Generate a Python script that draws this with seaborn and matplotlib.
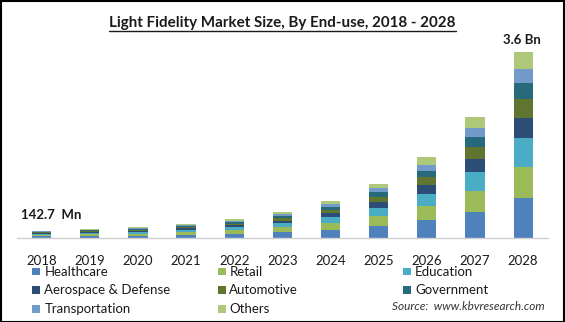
import matplotlib
matplotlib.use("Agg")
import matplotlib.pyplot as plt
from matplotlib.patches import Rectangle
from matplotlib.lines import Line2D
import seaborn as sns
import pandas as pd
import numpy as np

years = ["2018", "2019", "2020", "2021", "2022", "2023", "2024", "2025", "2026", "2027", "2028"]
segments = ["Healthcare", "Retail", "Education", "Aerospace & Defense",
            "Automotive", "Government", "Transportation", "Others"]
# values in USD million
healthcare     = [31, 38, 46, 60, 80, 110, 155, 232, 348, 509, 780]
retail         = [27, 33, 40, 52, 69, 95, 141, 194, 271, 406, 600]
education      = [23, 28, 34, 44, 58, 80, 116, 155, 232, 368, 561]
aerospace      = [14, 18, 22, 28, 37, 52, 66, 116, 174, 246, 387]
automotive     = [13, 16, 20, 26, 34, 47, 58, 97, 161, 238, 362]
government     = [13, 16, 19, 25, 33, 46, 64, 97, 110, 194, 315]
transportation = [10, 12, 15, 20, 27, 37, 58, 77, 116, 174, 265]
others         = [11.7, 14, 17, 22, 30, 42, 64, 77, 161, 213, 330]
colors = ["#4F81BD", "#9BBB59", "#4BACC6", "#2C4D75",
          "#5F7530", "#276A7C", "#729ACA", "#AFC97A"]
first_label = "142.7  Mn"
last_label = "3.6 Bn"

series = [healthcare, retail, education, aerospace, automotive,
          government, transportation, others]

rows = []
for s, vals in zip(segments, series):
    for y, v in zip(years, vals):
        rows.append({"year": y, "segment": s, "value": v})
df = pd.DataFrame(rows)
df["cum"] = df.groupby("year")["value"].cumsum()

W, H = 565, 322
fig = plt.figure(figsize=(W / 100, H / 100), dpi=100)
sns.set_style("white")
plt.rcParams["font.family"] = ["Lato", "DejaVu Sans"]

def fx(px):
    return px / W

def fy(py):
    return 1 - py / H

ax_left, ax_right, ax_base, ax_top = 16.7, 547.7, 238, 52
ax = fig.add_axes([fx(ax_left), fy(ax_base), (ax_right - ax_left) / W, (ax_base - ax_top) / H])

for s, c in reversed(list(zip(segments, colors))):
    sub = df[df["segment"] == s]
    sns.barplot(data=sub, x="year", y="cum", order=years, color=c, saturation=1,
                width=0.4, linewidth=0, ax=ax, errorbar=None)

ax.set_xlim(-0.519, 10.51)
ax.set_ylim(0, 3600)
ax.set_xlabel("")
ax.set_ylabel("")
ax.set_yticks([])
for sp in ["top", "right", "left"]:
    ax.spines[sp].set_visible(False)
ax.spines["bottom"].set_color("#D0D0D0")
ax.spines["bottom"].set_linewidth(1.0)
ax.tick_params(axis="x", length=0, pad=12, labelsize=9.5, labelcolor="#1a1a1a")
ax.set_facecolor("none")

totals = df.groupby("year")["value"].sum()
ax.annotate(first_label, xy=(0, totals[years[0]]), xytext=(fx(51), fy(215)),
            textcoords="figure fraction", ha="center", va="center",
            fontsize=9.5, fontweight="bold", color="#1a1a1a")
ax.annotate(last_label, xy=(10, totals[years[-1]]), xytext=(fx(522), fy(40)),
            textcoords="figure fraction", ha="center", va="center",
            fontsize=9.5, fontweight="bold", color="#1a1a1a")

# title with underline
title = fig.text(fx(282.5), fy(23), "Light Fidelity Market Size, By End-use, 2018 - 2028",
                 ha="center", va="center", fontsize=10.9, fontweight="bold", color="#1a1a1a")
fig.canvas.draw()
bb = title.get_window_extent(renderer=fig.canvas.get_renderer())
fig.add_artist(Line2D([bb.x0 / W, bb.x1 / W], [fy(30.5), fy(30.5)],
                      transform=fig.transFigure, color="#1a1a1a", linewidth=1.0))

# legend
col_sq = [32.3, 218.3, 403.3]
col_tx = [44.3, 229.3, 415]
row_y = [271.7, 290, 309]
layout = [(0, 0), (1, 0), (2, 0), (0, 1), (1, 1), (2, 1), (0, 2), (1, 2)]
for (ci, ri), s, c in zip(layout, segments, colors):
    sq = 7.5
    fig.add_artist(Rectangle((fx(col_sq[ci]), fy(row_y[ri] + sq / 2)), sq / W, sq / H,
                             transform=fig.transFigure, facecolor=c, edgecolor="none"))
    fig.text(fx(col_tx[ci]), fy(row_y[ri]), s, ha="left", va="center",
             fontsize=9.5, color="#1a1a1a")

fig.text(fx(545), fy(306.7), "Source:  www.kbvresearch.com", ha="right", va="center",
         fontsize=8.5, style="italic", color="#333333")

# figure border
fig.add_artist(Rectangle((0.5 / W, 0.5 / H), (W - 1.5) / W, (H - 1.5) / H,
                         transform=fig.transFigure, facecolor="none",
                         edgecolor="black", linewidth=1.5))

fig.savefig("out.png", dpi=100)
